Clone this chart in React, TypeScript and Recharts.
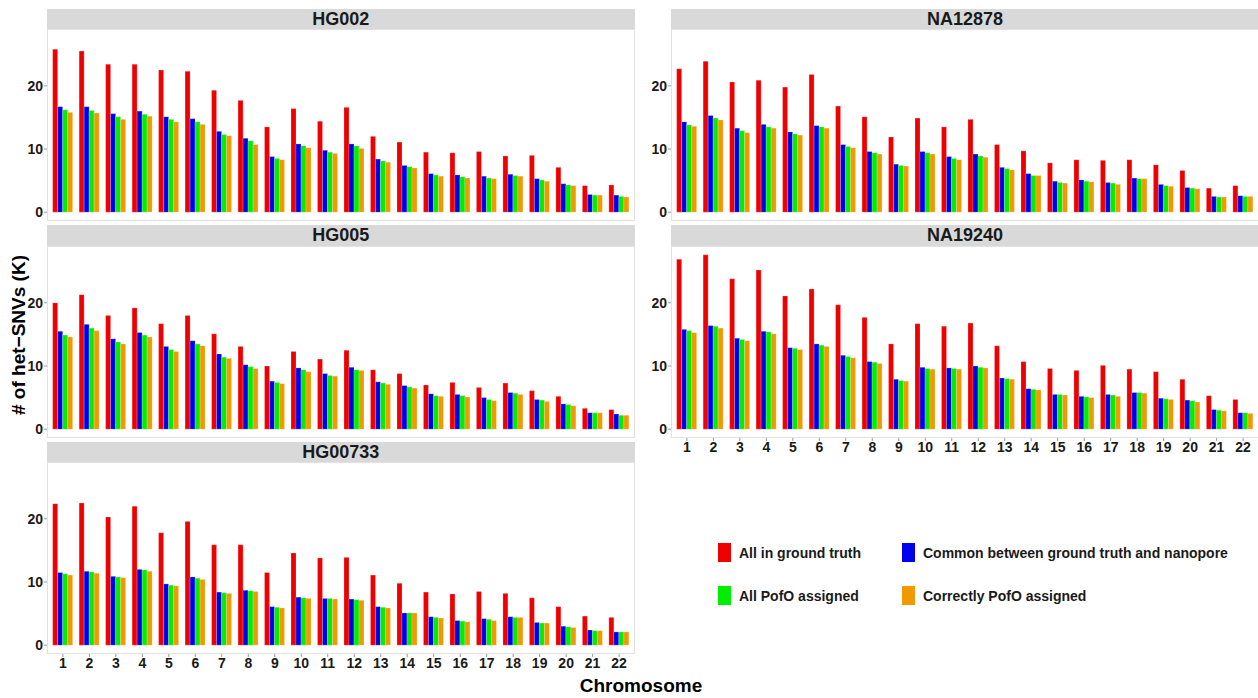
import { Bar, BarChart, XAxis, YAxis } from 'recharts';

const chromosomes = ['1', '2', '3', '4', '5', '6', '7', '8', '9', '10', '11', '12', '13', '14', '15', '16', '17', '18', '19', '20', '21', '22'];

// values in thousands of het-SNVs, read per chromosome 1..22
const hg002Truth = [25.8, 25.5, 23.4, 23.4, 22.5, 22.3, 19.3, 17.7, 13.5, 16.4, 14.4, 16.6, 12.0, 11.1, 9.5, 9.4, 9.6, 8.9, 9.0, 7.1, 4.2, 4.3];
const hg002Common = [16.7, 16.7, 15.6, 16.0, 15.1, 14.8, 12.8, 11.7, 8.8, 10.8, 9.8, 10.8, 8.4, 7.4, 6.1, 5.9, 5.7, 6.0, 5.3, 4.5, 2.8, 2.7];
const hg002Assigned = [16.2, 16.1, 15.1, 15.5, 14.7, 14.3, 12.3, 11.3, 8.5, 10.5, 9.5, 10.5, 8.1, 7.2, 5.9, 5.6, 5.4, 5.8, 5.1, 4.3, 2.7, 2.5];
const hg002Correct = [15.8, 15.7, 14.7, 15.2, 14.3, 13.9, 12.1, 10.7, 8.3, 10.2, 9.3, 10.1, 7.9, 7.0, 5.7, 5.4, 5.3, 5.7, 4.9, 4.2, 2.7, 2.4];

const na12878Truth = [22.7, 23.9, 20.6, 20.9, 19.8, 21.8, 16.8, 15.1, 11.9, 14.9, 13.5, 14.7, 10.7, 9.7, 7.8, 8.3, 8.2, 8.3, 7.5, 6.6, 3.8, 4.2];
const na12878Common = [14.3, 15.3, 13.3, 13.9, 12.7, 13.7, 10.7, 9.6, 7.6, 9.6, 8.8, 9.2, 7.1, 6.1, 4.9, 5.1, 4.7, 5.4, 4.4, 3.9, 2.5, 2.6];
const na12878Assigned = [13.8, 14.9, 12.9, 13.5, 12.4, 13.5, 10.4, 9.4, 7.4, 9.4, 8.5, 8.9, 6.9, 5.8, 4.7, 4.9, 4.6, 5.3, 4.2, 3.8, 2.4, 2.5];
const na12878Correct = [13.6, 14.6, 12.6, 13.3, 12.2, 13.3, 10.2, 9.2, 7.3, 9.2, 8.3, 8.7, 6.7, 5.8, 4.6, 4.8, 4.4, 5.3, 4.1, 3.7, 2.4, 2.5];

const hg005Truth = [20.0, 21.3, 18.0, 19.2, 16.7, 18.0, 15.1, 13.1, 10.0, 12.3, 11.1, 12.5, 9.4, 8.8, 7.0, 7.4, 6.6, 7.3, 6.1, 5.2, 3.3, 3.1];
const hg005Common = [15.5, 16.6, 14.3, 15.3, 13.1, 14.0, 11.9, 10.2, 7.6, 9.7, 8.8, 9.8, 7.5, 6.9, 5.6, 5.5, 5.0, 5.8, 4.7, 4.0, 2.6, 2.4];
const hg005Assigned = [14.9, 16.0, 13.8, 14.9, 12.6, 13.5, 11.4, 9.9, 7.4, 9.4, 8.5, 9.4, 7.3, 6.7, 5.3, 5.3, 4.7, 5.7, 4.6, 3.9, 2.6, 2.2];
const hg005Correct = [14.6, 15.6, 13.5, 14.6, 12.3, 13.2, 11.2, 9.6, 7.2, 9.1, 8.4, 9.3, 7.1, 6.5, 5.2, 5.1, 4.5, 5.5, 4.4, 3.7, 2.6, 2.2];

const na19240Truth = [26.9, 27.6, 23.8, 25.2, 21.1, 22.2, 19.7, 17.7, 13.5, 16.7, 16.3, 16.8, 13.2, 10.7, 9.6, 9.3, 10.1, 9.5, 9.1, 7.9, 5.3, 4.7];
const na19240Common = [15.8, 16.4, 14.4, 15.5, 12.9, 13.5, 11.7, 10.7, 7.9, 9.8, 9.7, 10.0, 8.1, 6.4, 5.5, 5.2, 5.5, 5.8, 4.9, 4.6, 3.1, 2.6];
const na19240Assigned = [15.6, 16.3, 14.2, 15.4, 12.8, 13.3, 11.5, 10.6, 7.7, 9.6, 9.6, 9.8, 8.0, 6.3, 5.5, 5.1, 5.4, 5.8, 4.8, 4.5, 3.0, 2.6];
const na19240Correct = [15.3, 16.0, 14.0, 15.1, 12.6, 13.1, 11.3, 10.4, 7.6, 9.5, 9.5, 9.7, 7.9, 6.2, 5.4, 5.0, 5.2, 5.7, 4.7, 4.3, 2.9, 2.5];

const hg00733Truth = [22.4, 22.5, 20.3, 22.0, 17.8, 19.6, 15.9, 15.9, 11.5, 14.6, 13.8, 13.9, 11.1, 9.8, 8.4, 8.1, 8.5, 8.2, 7.5, 6.1, 4.6, 4.4];
const hg00733Common = [11.5, 11.7, 10.9, 12.0, 9.7, 10.8, 8.4, 8.7, 6.1, 7.6, 7.4, 7.3, 6.1, 5.1, 4.5, 3.9, 4.2, 4.5, 3.6, 3.0, 2.4, 2.1];
const hg00733Assigned = [11.3, 11.6, 10.8, 11.9, 9.5, 10.6, 8.3, 8.6, 6.0, 7.5, 7.4, 7.2, 6.0, 5.1, 4.4, 3.8, 4.1, 4.4, 3.5, 2.9, 2.3, 2.1];
const hg00733Correct = [11.1, 11.4, 10.7, 11.7, 9.4, 10.4, 8.2, 8.5, 5.9, 7.4, 7.3, 7.1, 5.9, 5.1, 4.3, 3.7, 3.9, 4.4, 3.5, 2.8, 2.3, 2.1];

const yTicks = [0, 10, 20];

const series = [
  { key: 'truth', name: 'All in ground truth', color: '#EE0000' },
  { key: 'common', name: 'Common between ground truth and nanopore', color: '#0000EE' },
  { key: 'assigned', name: 'All PofO assigned', color: '#00EE00' },
  { key: 'correct', name: 'Correctly PofO assigned', color: '#EE9A00' },
];

function toRows(truth: number[], common: number[], assigned: number[], correct: number[]) {
  return chromosomes.map((chr, i) => ({ chr, truth: truth[i], common: common[i], assigned: assigned[i], correct: correct[i] }));
}

const PANEL_W = 588;
const PANEL_H = 192;
const STRIP_H = 20.5;
const Y_AXIS_W = 47;
const X_AXIS_H = 24;
const FONT = "'Liberation Sans', Arial, Helvetica, sans-serif";

const tickStyle = { fontSize: 14, fontWeight: 700, fill: '#1a1a1a', fontFamily: FONT };

interface PanelProps {
  title: string;
  rows: ReturnType<typeof toRows>;
  left: number;
  top: number;
  showX?: boolean;
}

function Panel({ title, rows, left, top, showX = false }: PanelProps) {
  return (
    <>
      <div
        style={{
          position: 'absolute', left, top, width: PANEL_W, height: STRIP_H, background: '#D9D9D9',
          color: '#1a1a1a', fontFamily: FONT, fontWeight: 700, fontSize: 18, lineHeight: `${STRIP_H}px`, textAlign: 'center',
        }}
      >
        {title}
      </div>
      <div style={{ position: 'absolute', left: left - Y_AXIS_W, top: top + STRIP_H }}>
        <BarChart
          width={PANEL_W + Y_AXIS_W}
          height={PANEL_H + (showX ? X_AXIS_H : 0)}
          data={rows}
          margin={{ top: 0, right: 0, bottom: 0, left: 0 }}
          barGap={0}
        >
          <XAxis
            dataKey="chr"
            hide={!showX}
            height={X_AXIS_H}
            padding={{ left: 2.65, right: 2.65 }}
            axisLine={false}
            tickLine={{ stroke: '#9a9a9a' }}
            tickSize={3}
            tickMargin={1}
            interval={0}
            tick={tickStyle}
          />
          <YAxis
            domain={[-1.4, 29]}
            ticks={yTicks}
            width={Y_AXIS_W}
            axisLine={false}
            tickLine={{ stroke: '#9a9a9a' }}
            tickSize={3}
            tickMargin={1}
            tick={tickStyle}
          />
          {series.map((s) => (
            <Bar key={s.key} dataKey={s.key} name={s.name} fill={s.color} barSize={5} stroke="#ffffff" strokeOpacity={0.5} strokeWidth={0.4} isAnimationActive={false} />
          ))}
        </BarChart>
      </div>
      <div
        style={{
          position: 'absolute', left, top: top + STRIP_H, width: PANEL_W, height: PANEL_H,
          border: '1px solid #E2E2E2', boxSizing: 'border-box', pointerEvents: 'none',
        }}
      />
    </>
  );
}

function LegendBox() {
  const cols = [718, 902];
  const rowsY = [543, 586];
  return (
    <>
      {series.map((s, i) => (
        <div
          key={s.key}
          style={{
            position: 'absolute', left: cols[i % 2], top: rowsY[Math.floor(i / 2)], display: 'flex', alignItems: 'center',
            fontFamily: FONT, fontWeight: 700, fontSize: 14, color: '#1a1a1a', whiteSpace: 'nowrap',
          }}
        >
          <span style={{ display: 'inline-block', width: 13, height: 19, background: s.color, marginRight: 8 }} />
          {s.name}
        </div>
      ))}
    </>
  );
}

export default function App() {
  const colLeft = [46.7, 671];
  const rowTop = [8.5, 225, 441.5];
  return (
    <div style={{ position: 'absolute', left: 0, top: 0, width: 1258, height: 698, background: '#ffffff', overflow: 'hidden' }}>
      <Panel title="HG002" rows={toRows(hg002Truth, hg002Common, hg002Assigned, hg002Correct)} left={colLeft[0]} top={rowTop[0]} />
      <Panel title="NA12878" rows={toRows(na12878Truth, na12878Common, na12878Assigned, na12878Correct)} left={colLeft[1]} top={rowTop[0]} />
      <Panel title="HG005" rows={toRows(hg005Truth, hg005Common, hg005Assigned, hg005Correct)} left={colLeft[0]} top={rowTop[1]} />
      <Panel title="NA19240" rows={toRows(na19240Truth, na19240Common, na19240Assigned, na19240Correct)} left={colLeft[1]} top={rowTop[1]} showX />
      <Panel title="HG00733" rows={toRows(hg00733Truth, hg00733Common, hg00733Assigned, hg00733Correct)} left={colLeft[0]} top={rowTop[2]} showX />
      <LegendBox />
      <div
        style={{
          position: 'absolute', left: 19, top: 335, transform: 'translate(-50%, -50%) rotate(-90deg)',
          fontFamily: FONT, fontWeight: 700, fontSize: 19, color: '#000', whiteSpace: 'nowrap',
        }}
      >
        # of het−SNVs (K)
      </div>
      <div
        style={{
          position: 'absolute', left: 641, top: 686, transform: 'translate(-50%, -50%)',
          fontFamily: FONT, fontWeight: 700, fontSize: 19, color: '#000', whiteSpace: 'nowrap',
        }}
      >
        Chromosome
      </div>
    </div>
  );
}
